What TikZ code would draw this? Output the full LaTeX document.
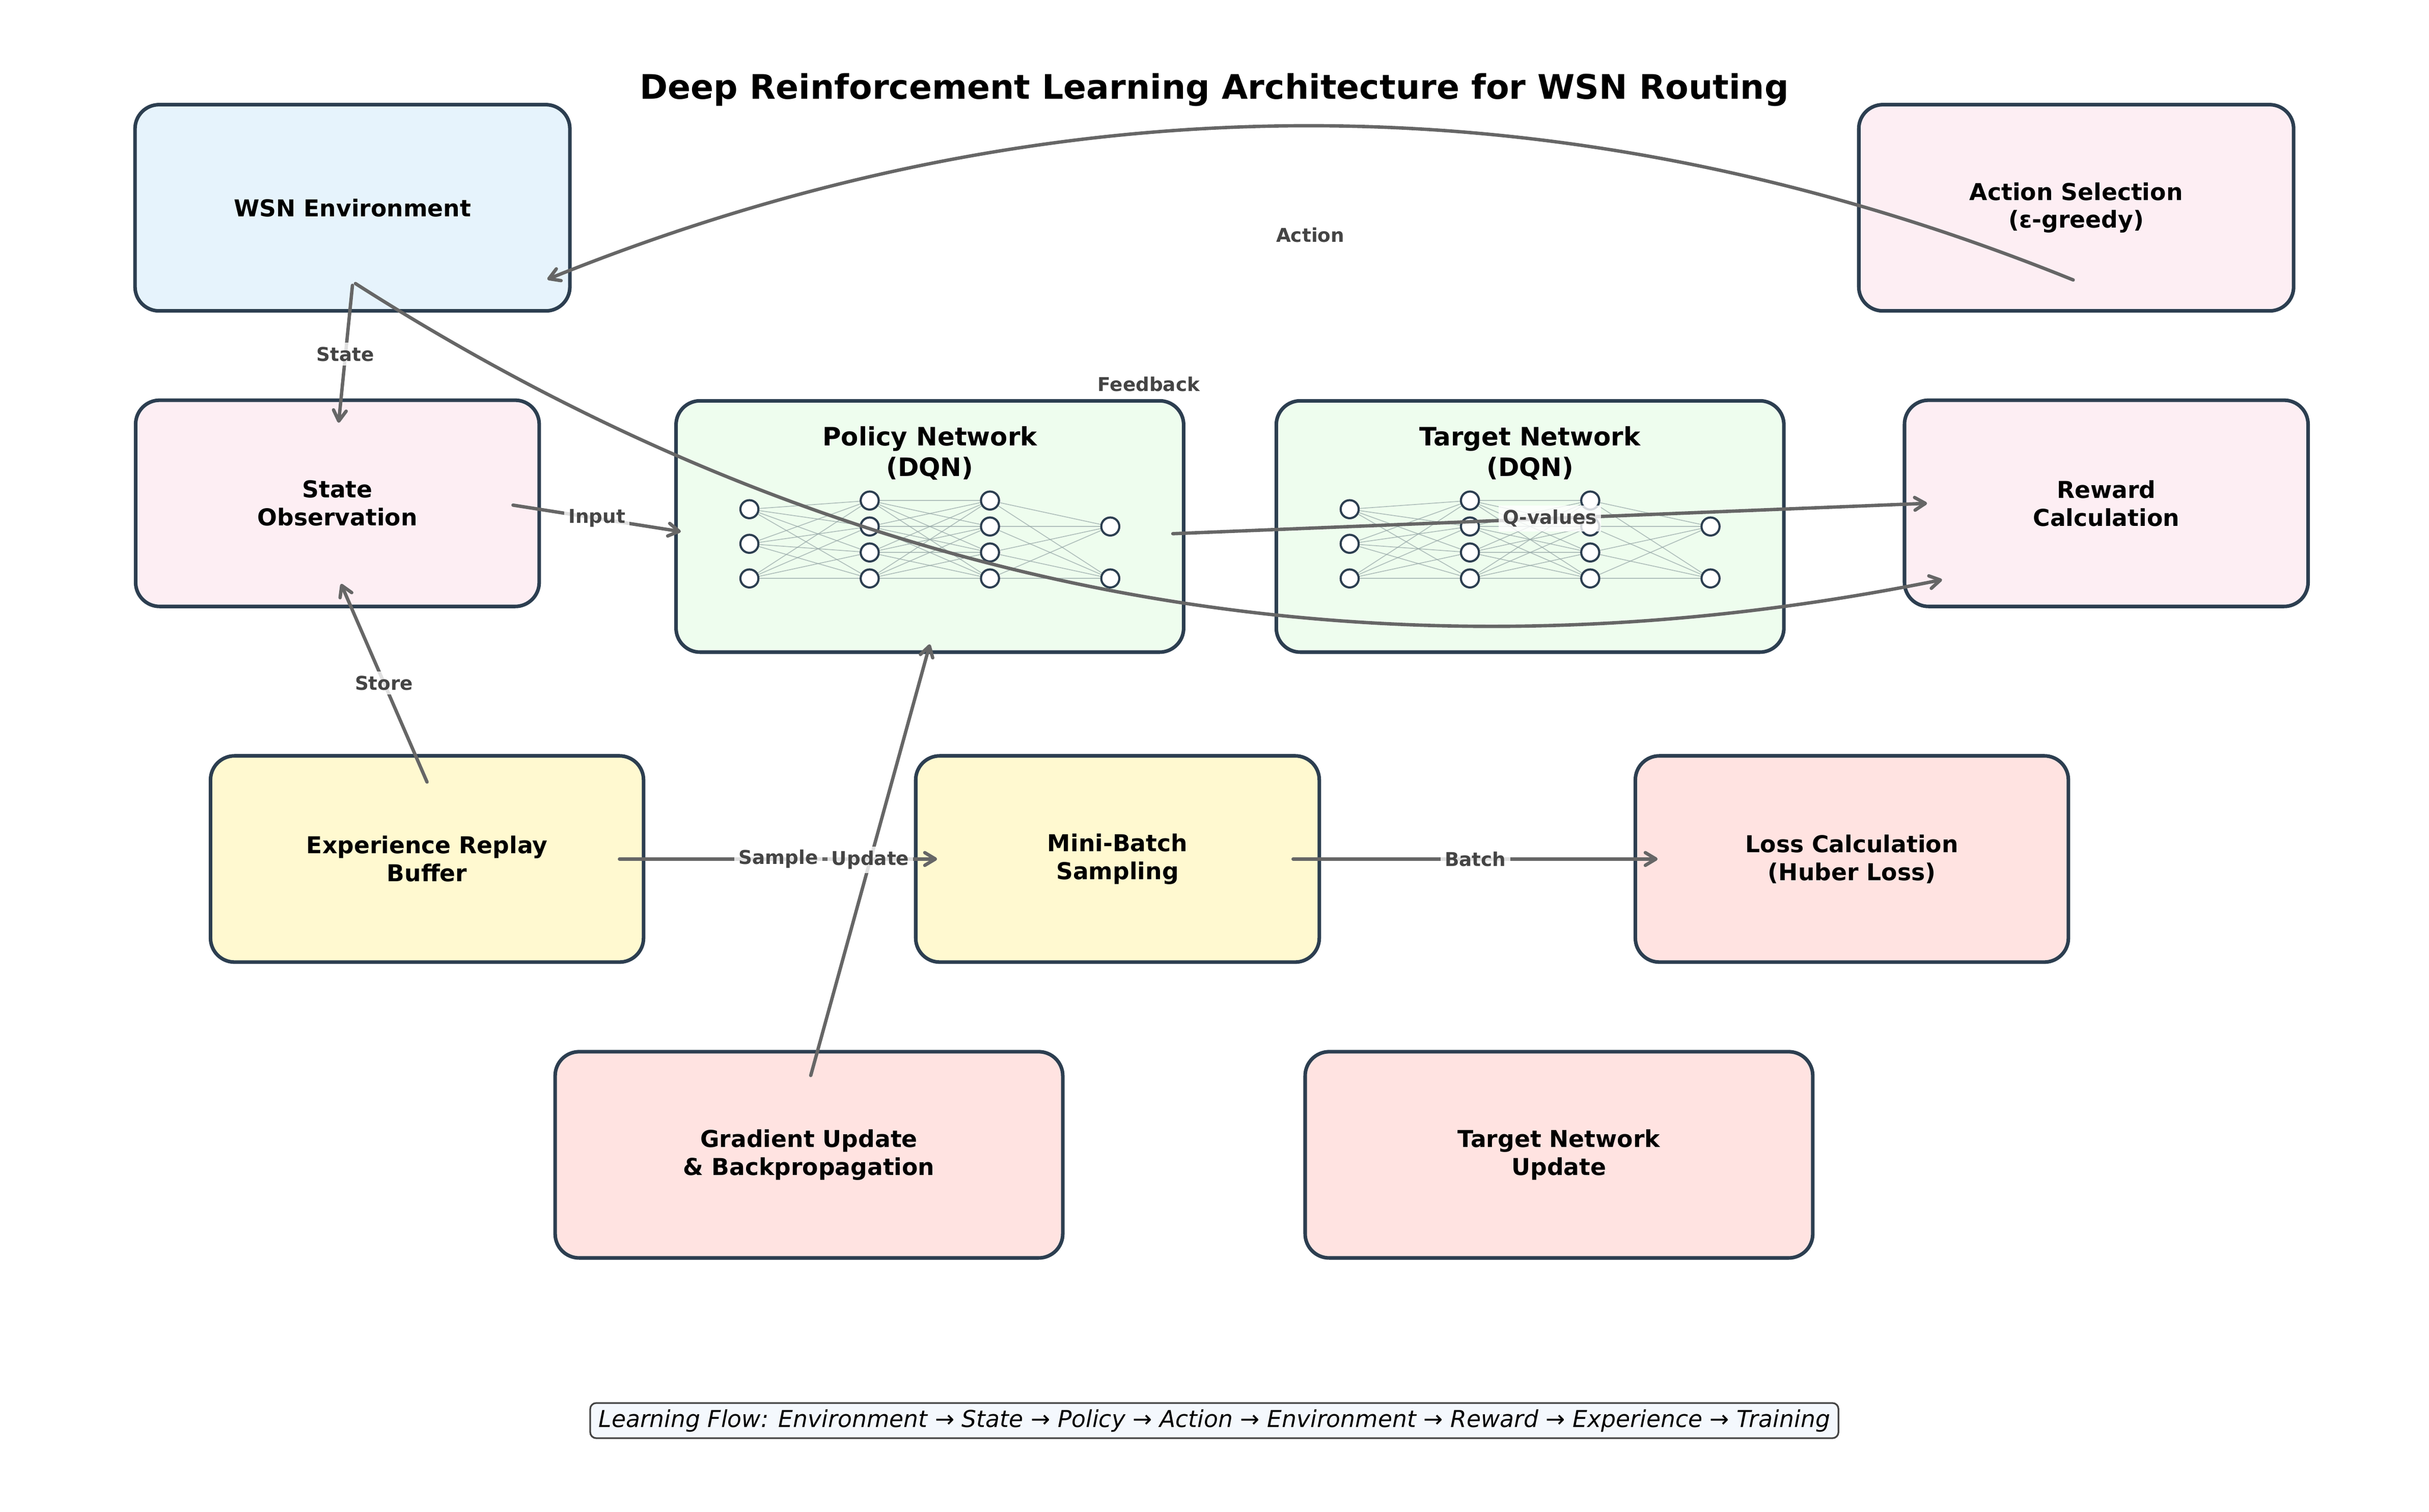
\documentclass[tikz,border=0pt]{standalone}
\usepackage{fontspec}
\setmainfont{DejaVu Sans}[BoldFont={DejaVu Sans Bold},ItalicFont={DejaVu Sans Oblique},BoldItalicFont={DejaVu Sans Bold Oblique}]
\usetikzlibrary{arrows.meta}

\definecolor{navy}{HTML}{2C3E50}
\definecolor{envblue}{HTML}{E6F3FC}
\definecolor{obspink}{HTML}{FDEEF3}
\definecolor{netgreen}{HTML}{EEFDEE}
\definecolor{bufyellow}{HTML}{FFF9D0}
\definecolor{lossred}{HTML}{FFE3E1}
\definecolor{arrowgrey}{HTML}{666666}
\definecolor{labelgrey}{HTML}{444444}
\definecolor{linkgrey}{HTML}{95A5A6}
\definecolor{footblue}{HTML}{F4F8FD}

\tikzset{
  block/.style={draw=navy,line width=1.7pt,rounded corners=0.4cm,align=center,
    font=\bfseries\fontsize{11}{13.2}\selectfont,minimum height=3.43cm},
  nettitle/.style={align=center,font=\bfseries\fontsize{12}{14.4}\selectfont},
  neuron/.style={circle,draw=navy,fill=white,line width=1pt,inner sep=0pt,minimum size=0.3cm},
  link/.style={draw=linkgrey,line width=0.4pt,draw opacity=0.7},
  flow/.style={draw=arrowgrey,line width=1.6pt,line cap=round,
    -{Straight Barb[length=5pt,width=6pt,round]}},
  lbl/.style={font=\bfseries\fontsize{9}{11}\selectfont,text=labelgrey,fill=white,
    fill opacity=0.8,text opacity=1,inner sep=2pt},
  footbox/.style={draw=labelgrey,fill=footblue,line width=0.8pt,rounded corners=0.1cm,
    font=\itshape\fontsize{11}{13}\selectfont,inner xsep=4pt,inner ysep=3pt}
}

\newcommand{\qnet}[2]{%
  \begin{scope}[shift={(#2.center)}]
    \foreach \l/\n/\x in {1/3/-3,2/4/-1,3/4/1,4/2/3}
      \foreach \j in {1,...,\n}
        \node[neuron] (#1\l\j) at (\x,{-0.864+(\j-1)*1.727/\n}) {};
    \foreach \l/\n/\m/\k in {1/3/2/4,2/4/3/4,3/4/4/2}
      \foreach \i in {1,...,\n}
        \foreach \j in {1,...,\k}
          \draw[link] (#1\l\i) -- (#1\m\j);
  \end{scope}}

\begin{document}
\begin{tikzpicture}
\useasboundingbox (0,0) rectangle (40.386,25.146);
\node[font=\bfseries\fontsize{16}{19}\selectfont] (title) at (20.19,23.65) {Deep Reinforcement Learning Architecture for WSN Routing};

\node[block,fill=envblue,minimum width=7.23cm] (env) at (5.86,21.69) {WSN Environment};
\node[block,fill=obspink,minimum width=7.23cm] (act) at (34.52,21.69) {Action Selection\\(ε-greedy)};
\node[block,fill=obspink,minimum width=6.71cm] (obs) at (5.61,16.775) {State\\Observation};
\node[block,fill=netgreen,minimum width=8.44cm,minimum height=4.18cm] (pol) at (15.46,16.39) {};
\node[block,fill=netgreen,minimum width=8.44cm,minimum height=4.18cm] (tgt) at (25.44,16.39) {};
\node[block,fill=obspink,minimum width=6.71cm] (rew) at (35.02,16.775) {Reward\\Calculation};
\node[block,fill=bufyellow,minimum width=7.2cm] (buf) at (7.1,10.86) {Experience Replay\\Buffer};
\node[block,fill=bufyellow,minimum width=6.71cm] (mini) at (18.58,10.86) {Mini-Batch\\Sampling};
\node[block,fill=lossred,minimum width=7.2cm] (loss) at (30.79,10.86) {Loss Calculation\\(Huber Loss)};
\node[block,fill=lossred,minimum width=8.44cm] (grad) at (13.45,5.94) {Gradient Update\\\& Backpropagation};
\node[block,fill=lossred,minimum width=8.44cm] (tupd) at (25.92,5.94) {Target Network\\Update};

\node[nettitle] (poltitle) at ([yshift=1.22cm]pol.center) {Policy Network\\(DQN)};
\node[nettitle] (tgttitle) at ([yshift=1.22cm]tgt.center) {Target Network\\(DQN)};
\qnet{pn}{pol}
\qnet{tn}{tgt}

\draw[flow] ([shift={(-0.05,-1.2)}]act.center) to[bend right=22,looseness=0.92] ([shift={(3.24,-1.19)}]env.center);
\path ([shift={(-0.05,-1.2)}]act.center) -- ([shift={(3.24,-1.19)}]env.center) node[lbl,midway,yshift=0.74cm] {Action};
\draw[flow] ([yshift=-1.29cm]env.center) -- node[lbl] {State} ([shift={(0.02,1.34)}]obs.center);
\draw[flow] ([shift={(0.05,-1.26)}]env.center) to[bend right=22,looseness=0.92] ([shift={(-2.73,-1.27)}]rew.center);
\path ([shift={(0.05,-1.26)}]env.center) -- ([shift={(-2.73,-1.27)}]rew.center) node[lbl,midway,yshift=0.79cm] {Feedback};
\draw[flow] ([shift={(2.92,-0.03)}]obs.center) -- node[lbl] {Input} ([shift={(-4.14,-0.085)}]pol.center);
\draw[flow] ([shift={(4.04,-0.12)}]pol.center) -- node[lbl] {Q-values} ([shift={(-2.98,0)}]rew.center);
\draw[flow] ([yshift=1.28cm]buf.center) -- node[lbl] {Store} ([shift={(0.06,-1.34)}]obs.center);
\draw[flow] ([xshift=3.2cm]buf.center) -- node[lbl] {Sample} ([xshift=-3cm]mini.center);
\draw[flow] ([shift={(0.03,1.32)}]grad.center) -- node[lbl] {Update} ([yshift=-1.96cm]pol.center);
\draw[flow] ([xshift=2.92cm]mini.center) -- node[lbl] {Batch} ([xshift=-3.23cm]loss.center);

\node[footbox] (flow) at (20.19,1.52) {Learning Flow: Environment → State → Policy → Action → Environment → Reward → Experience → Training};
\end{tikzpicture}
\end{document}
